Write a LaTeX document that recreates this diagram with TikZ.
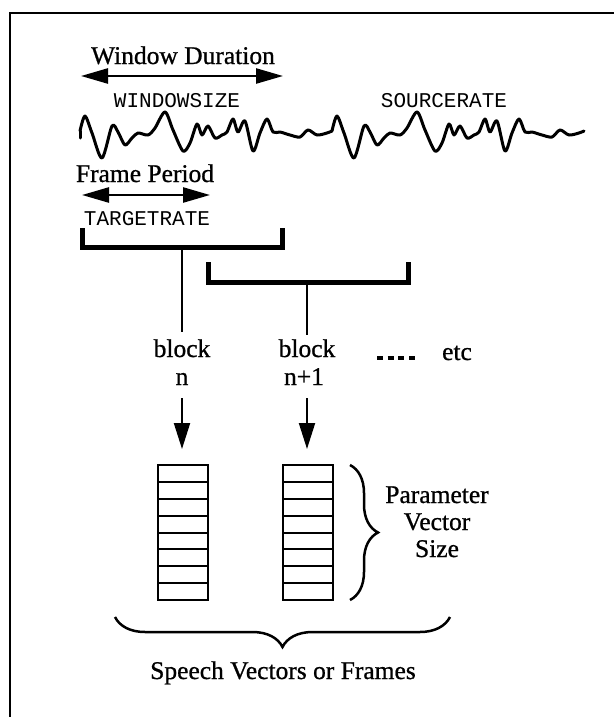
\documentclass[tikz,border=0pt]{standalone}
\usepackage{fontspec}
\setmainfont{Liberation Serif}
\setmonofont{Liberation Mono}
\newfontfamily\heavyserif[FakeBold=0.8]{Liberation Serif}
\usetikzlibrary{arrows.meta,decorations.pathreplacing}
\begin{document}
\begin{tikzpicture}[x=1pt,y=-1pt,
  lbl/.style={font=\heavyserif\fontsize{25.5}{30}\selectfont, inner sep=0pt, anchor=base},
  mono/.style={font=\ttfamily\fontsize{21}{25}\selectfont, inner sep=0pt, anchor=base},
  dbl/.style={{Triangle[length=27pt,width=15pt]}-{Triangle[length=27pt,width=15pt]}, line width=2.5pt},
  downarrow/.style={-{Triangle[length=26pt,width=16pt]}, line width=2pt},
  bracketline/.style={line width=5pt},
  stemline/.style={line width=2pt},
  cell/.style={draw, line width=2pt, minimum width=50pt, minimum height=16.875pt, inner sep=0pt, outer sep=0pt},
  wave/.style={line width=3pt, line join=round, line cap=round},
  curly/.style={decorate, line width=2.5pt},
  frameline/.style={line width=2pt}
]
\useasboundingbox (0,0) rectangle (614,717);
\fill[white] (0,0) rectangle (614,717);
% frame (open on right and bottom)
\coordinate (fbl) at (10,717);
\coordinate (ftl) at (10,13);
\coordinate (ftr) at (614,13);
\draw[frameline] (fbl) -- (ftl) -- (ftr);

% window duration
\node[lbl] (wd) at (183,64) {Window Duration};
\coordinate (wdl) at (81,76);
\coordinate (wdr) at (283,76);
\draw[dbl] (wdl) -- (wdr);
\node[mono] (ws) at (177,107) {WINDOWSIZE};
\node[mono] (sr) at (444,107) {SOURCERATE};

% waveform
\draw[wave] (80,138) -- (80,131);
\foreach \s in {0,252}{
  \draw[wave, xshift=\s pt] plot[smooth, tension=0.5] coordinates {
    (80,131) (85,116) (92,133) (102,158) (112,126) (118,132) (125,145) (132,138)
    (138,133) (148,135) (155,128) (165,112) (173,130) (183,151) (190,143) (197,124)
    (202,135) (208,126) (215,138) (222,135) (227,132) (233,119) (238,132) (245,121)
    (253,151) (260,133) (267,119) (273,132) (280,132) (290,135) (300,137) (308,130)
    (317,135) (327,133) (332,131)};
}

% frame period
\node[lbl] (fp) at (145,182) {Frame Period};
\coordinate (fpl) at (82,195);
\coordinate (fpr) at (210,195);
\draw[dbl] (fpl) -- (fpr);
\node[mono] (tr) at (147,225) {TARGETRATE};

% brackets
\coordinate (b1a) at (82,228);
\coordinate (b1b) at (82,247);
\coordinate (b1c) at (282,247);
\coordinate (b1d) at (282,228);
\draw[bracketline] (b1a) -- (b1b) -- (b1c) -- (b1d);
\coordinate (s1top) at (182,247);
\coordinate (s1bot) at (182,332);
\draw[stemline] (s1top) -- (s1bot);

\coordinate (b2a) at (208,262);
\coordinate (b2b) at (208,282);
\coordinate (b2c) at (408,282);
\coordinate (b2d) at (408,262);
\draw[bracketline] (b2a) -- (b2b) -- (b2c) -- (b2d);
\coordinate (s2top) at (307,282);
\coordinate (s2bot) at (307,335);
\draw[stemline] (s2top) -- (s2bot);

% block labels
\node[lbl] (bk1) at (182,357) {block};
\node[lbl] (n1) at (182,385) {n};
\node[lbl] (bk2) at (307,357) {block};
\node[lbl] (n2) at (304,385) {n+1};
\coordinate (dl) at (377,358);
\coordinate (dr) at (415,358);
\draw[line width=4pt, dash pattern=on 6pt off 4.7pt] (dl) -- (dr);
\node[lbl] (etc) at (457,360) {etc};

% vector boxes
\foreach \i in {0,...,7}{
  \node[cell] (va\i) at (182.5,{465+16.875*(\i+0.5)}) {};
  \node[cell] (vb\i) at (307.5,{465+16.875*(\i+0.5)}) {};
}
\coordinate (a1s) at (182,398);
\coordinate (a1e) at (182,449);
\coordinate (a2s) at (307,398);
\coordinate (a2e) at (307,449);
\draw[downarrow] (a1s) -- (a1e);
\draw[downarrow] (a2s) -- (a2e);

% right brace
\coordinate (rbt) at (350,465);
\coordinate (rbb) at (350,600);
\draw[curly, decoration={brace, amplitude=28pt}] (rbt) -- (rbb);
\node[lbl] (p1) at (437,503) {Parameter};
\node[lbl] (p2) at (437,530) {Vector};
\node[lbl] (p3) at (437,557) {Size};

% bottom brace
\coordinate (bbl) at (115,617);
\coordinate (bbr) at (450,617);
\draw[curly, decoration={brace, amplitude=30pt, mirror}] (bbl) -- (bbr);
\node[lbl] (sv) at (283,679) {Speech Vectors or Frames};
\end{tikzpicture}
\end{document}
